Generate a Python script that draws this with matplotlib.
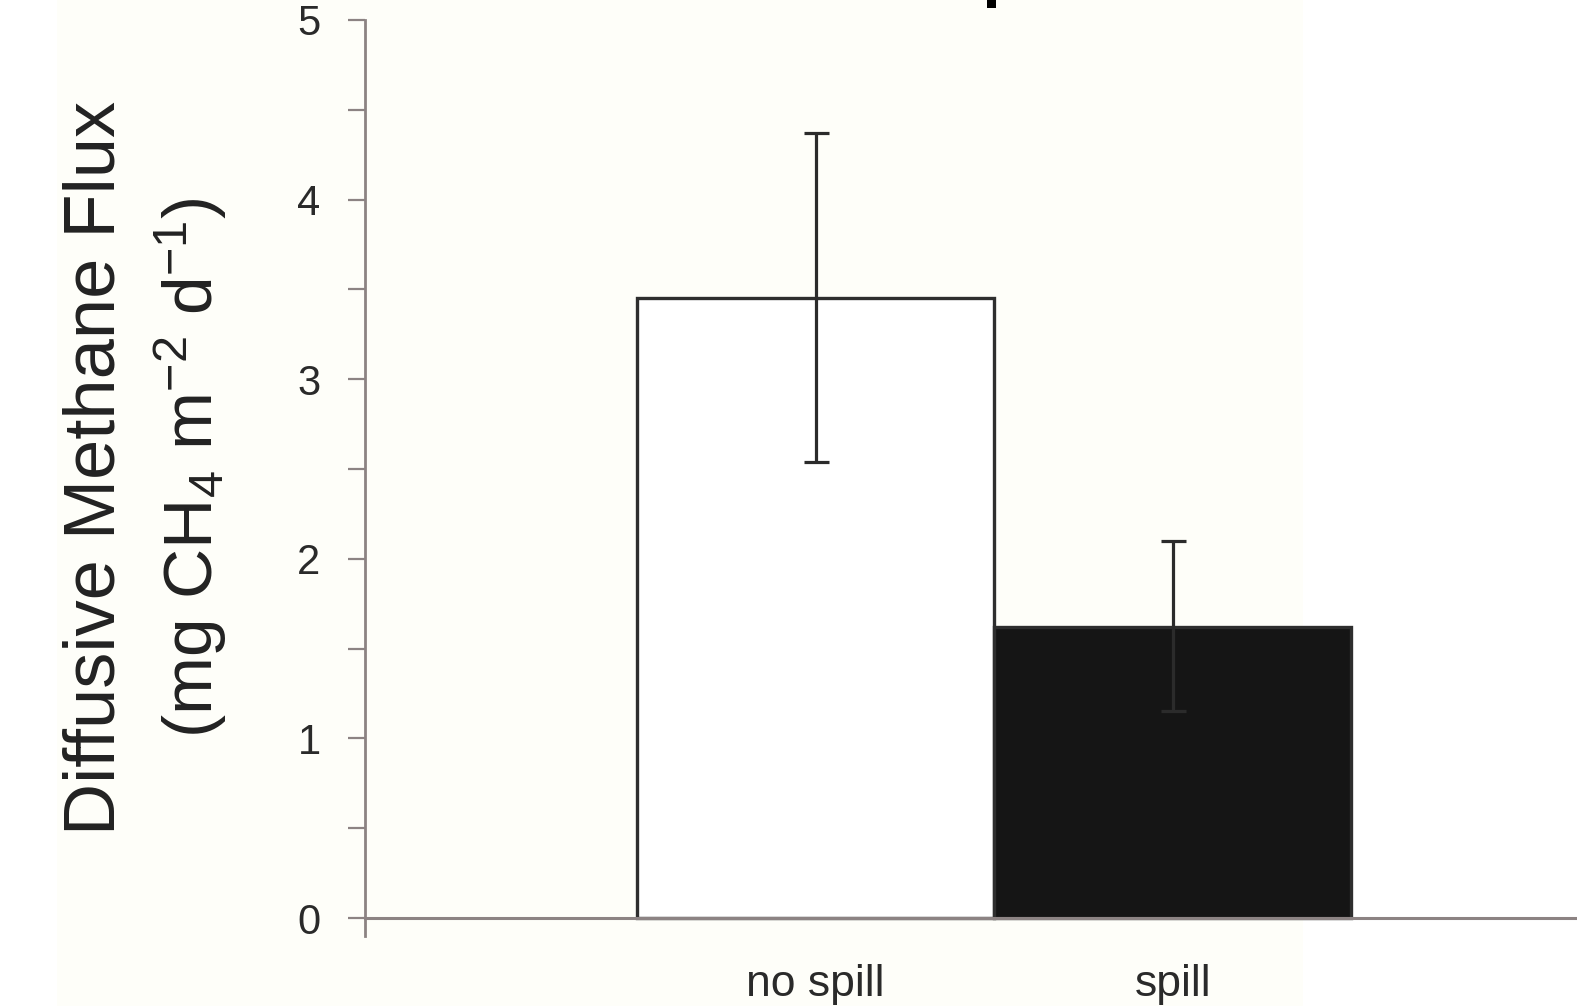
import matplotlib
matplotlib.use("Agg")
import matplotlib.pyplot as plt
from matplotlib.patches import Rectangle
from matplotlib.ticker import MultipleLocator

plt.rcParams["font.family"] = ["Liberation Sans", "DejaVu Sans"]
plt.rcParams["mathtext.fontset"] = "custom"
plt.rcParams["mathtext.rm"] = "Liberation Sans"
plt.rcParams["mathtext.default"] = "rm"

# data
categories = ["no spill", "spill"]
flux_mean = [3.45, 1.62]
err_low = [0.91, 0.47]
err_high = [0.92, 0.48]
bar_colors = ["white", "#151515"]

ylabel_1 = "Diffusive Methane Flux"
ylabel_2 = r"(mg CH$_4$ m$^{-2}$ d$^{-1}$)"

W, H = 1577, 1006
fig = plt.figure(figsize=(W / 100, H / 100), dpi=100, facecolor="white")

# cream backdrop of the scanned figure
fig.patches.append(Rectangle((57 / W, 0), (1303 - 57) / W, 1, transform=fig.transFigure,
                             facecolor="#fefef9", edgecolor="none", zorder=-10))
# fragment of a letter cut off at the top edge
fig.patches.append(Rectangle((987 / W, 1 - 8 / H), 9 / W, 8 / H, transform=fig.transFigure,
                             facecolor="black", edgecolor="none", zorder=5))

ax = fig.add_axes([365 / W, 70 / H, 1 - 365 / W, 916 / H])
ax.set_facecolor("none")

x = list(range(len(categories)))
ax.bar(x, flux_mean, width=1.0, color=bar_colors, edgecolor="#2e2e2e", linewidth=2.4, zorder=2)
ax.errorbar(x, flux_mean, yerr=[err_low, err_high], fmt="none", ecolor="#2b2b2b",
            elinewidth=2.3, capsize=9, capthick=2.3, zorder=3)

ax.set_xlim(-1.262, 2.132)
ax.set_ylim(-0.1, 5)
ax.yaxis.set_major_locator(MultipleLocator(1))
ax.yaxis.set_minor_locator(MultipleLocator(0.5))

spine_col = "#8c8383"
for s in ["top", "right"]:
    ax.spines[s].set_visible(False)
ax.spines["left"].set_color(spine_col)
ax.spines["left"].set_linewidth(2)
ax.spines["bottom"].set_color(spine_col)
ax.spines["bottom"].set_linewidth(2.2)
ax.spines["bottom"].set_position(("data", 0))

ax.tick_params(axis="y", which="both", direction="out", length=12, width=1.6,
               color=spine_col, pad=20, labelsize=30, labelcolor="#2a2a2a")
ax.tick_params(axis="x", length=0, pad=33, labelsize=32, labelcolor="#2a2a2a")
ax.set_xticks(x)
ax.set_xticklabels(categories)

fig.text(96 / W, 1 - 468 / H, ylabel_1, rotation=90, ha="center", va="center",
         fontsize=52, color="#222222")
fig.text(191 / W, 1 - 468 / H, ylabel_2, rotation=90, ha="center", va="center",
         fontsize=50, color="#222222")

fig.savefig("out.png", dpi=100, facecolor=fig.get_facecolor())
